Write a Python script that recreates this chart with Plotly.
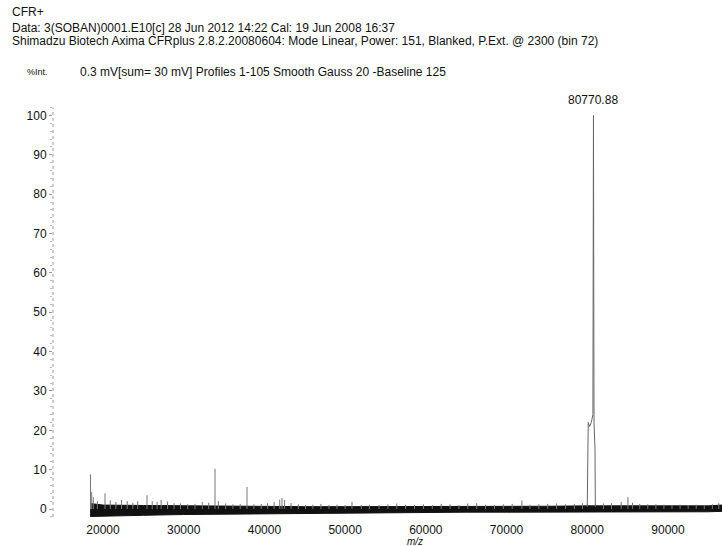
import plotly.graph_objects as go

# Header text of the spectrum printout
header_lines = [
    "CFR+",
    "Data: 3(SOBAN)0001.E10[c] 28 Jun 2012 14:22 Cal: 19 Jun 2008 16:37",
    "Shimadzu Biotech Axima CFRplus 2.8.2.20080604: Mode Linear, Power: 151, Blanked, P.Ext. @ 2300 (bin 72)",
]
acq_info = "0.3 mV[sum= 30 mV] Profiles 1-105 Smooth Gauss 20 -Baseline 125"
y_title = "%Int."
x_title = "m/z"

# Axis ticks
x_ticks = [20000, 30000, 40000, 50000, 60000, 70000, 80000, 90000]
y_ticks = [0, 10, 20, 30, 40, 50, 60, 70, 80, 90, 100]

# Baseline noise band (upper / lower envelope, %Int.)
band_x = [18400, 20000, 25000, 30000, 35000, 40000, 45000, 50000, 55000,
          60000, 65000, 70000, 75000, 80000, 85000, 90000, 95000, 96700]
band_hi = [1.4, 1.0, 0.9, 0.8, 0.8, 0.7, 0.6, 0.6, 0.6,
           0.6, 0.6, 0.6, 0.7, 0.8, 0.8, 0.7, 0.8, 1.0]
band_lo = [-1.9, -1.8, -1.6, -1.4, -1.3, -1.2, -1.1, -1.0, -0.9,
           -0.9, -0.8, -0.8, -0.8, -0.8, -0.8, -0.7, -0.7, -0.6]

# Individual spikes above the baseline (m/z, %Int.)
spike_mz = [18450, 18600, 18800, 19300, 20250, 20900, 21600, 22300, 23000,
            23700, 24300, 25450, 26100, 26700, 27200, 28000, 28800, 29600,
            30500, 31400, 32300, 33100, 33880, 34300, 35200, 36100, 37000,
            37840, 38700, 39600, 40400, 41200, 41900, 42180, 42500, 43300,
            44200, 45100, 46000, 47000, 48000, 49000, 50000, 50850, 52000,
            53000, 54200, 55300, 56400, 57500, 58600, 59700, 60800, 61900,
            63000, 64100, 65200, 66300, 67400, 68500, 69600, 70700, 71900,
            72900, 74000, 75100, 76200, 77300, 78400, 79400, 82000, 83000,
            84200, 85040, 85600, 86500, 87500, 88500, 89500, 90500, 91500,
            92500, 93500, 94500, 95500, 96300]
spike_int = [8.8, 4.3, 3.0, 2.0, 4.0, 2.2, 1.8, 2.3, 2.0,
             1.6, 2.0, 3.5, 2.0, 1.8, 2.3, 1.9, 1.5, 1.4,
             1.2, 1.3, 1.8, 1.6, 10.2, 2.0, 1.4, 1.2, 1.3,
             5.6, 1.2, 1.3, 1.5, 1.8, 2.4, 2.8, 2.3, 1.5,
             1.2, 1.0, 1.1, 1.3, 1.0, 1.1, 1.0, 1.8, 1.0,
             1.1, 1.0, 1.2, 1.4, 1.1, 1.0, 1.2, 1.0, 1.3,
             1.2, 1.0, 1.4, 1.5, 1.1, 1.0, 1.2, 1.3, 2.2,
             1.1, 1.2, 1.3, 1.4, 1.2, 1.3, 1.5, 1.4, 1.5,
             1.8, 3.0, 1.6, 1.3, 1.2, 1.2, 1.1, 1.0, 1.1,
             1.0, 1.1, 1.0, 1.2, 1.5]

# Profile of the main peak
peak_mz = [80000, 80050, 80120, 80300, 80500, 80700, 80740, 80770, 80800,
           80840, 80900, 80960, 81000]
peak_int = [0.5, 16.0, 22.0, 21.0, 22.0, 24.0, 70.0, 100.0, 60.0,
            22.0, 18.0, 15.0, 0.5]
peak_label = "80770.88"
peak_label_mz = 80770

# Page geometry (pixels)
W, H = 722, 546
L, R, T, B = 53, 0, 104, 29
x_range = [13805, 96694]
y_range = [-2.03, 102.92]
FONT = "Liberation Sans"


def px_x(p):
    return (p - L) / (W - L - R)


def px_y(p):
    return (H - B - p) / (H - T - B)


fig = go.Figure()

# baseline band
fig.add_trace(go.Scatter(x=band_x, y=band_lo, mode="lines",
                         line=dict(color="#111", width=1),
                         hoverinfo="skip", showlegend=False))
fig.add_trace(go.Scatter(x=band_x, y=band_hi, mode="lines", fill="tonexty",
                         fillcolor="#111", line=dict(color="#111", width=1),
                         hoverinfo="skip", showlegend=False))

# spikes as sticks
sx, sy = [], []
for m, h in zip(spike_mz, spike_int):
    sx += [m, m, None]
    sy += [0, h, None]
fig.add_trace(go.Scatter(x=sx, y=sy, mode="lines",
                         line=dict(color="#777", width=1),
                         hoverinfo="skip", showlegend=False))

# main peak
fig.add_trace(go.Scatter(x=peak_mz, y=peak_int, mode="lines",
                         line=dict(color="#666", width=1),
                         showlegend=False))

annotations = []
header_y = [12, 28, 41]
for txt, yy in zip(header_lines, header_y):
    annotations.append(dict(text=txt, xref="paper", yref="paper",
                            x=px_x(10), y=px_y(yy), xanchor="left",
                            yanchor="middle", showarrow=False,
                            font=dict(family=FONT, size=12, color="#111")))
annotations.append(dict(text=y_title, xref="paper", yref="paper",
                        x=px_x(25), y=px_y(72), xanchor="left",
                        yanchor="middle", showarrow=False,
                        font=dict(family=FONT, size=9, color="#111")))
annotations.append(dict(text=acq_info, xref="paper", yref="paper",
                        x=px_x(78), y=px_y(72), xanchor="left",
                        yanchor="middle", showarrow=False,
                        font=dict(family=FONT, size=12, color="#111")))
annotations.append(dict(text="<i>" + x_title + "</i>", xref="paper",
                        yref="paper", x=px_x(415), y=px_y(541),
                        xanchor="center", yanchor="middle", showarrow=False,
                        font=dict(family=FONT, size=10, color="#111")))
annotations.append(dict(text=peak_label, xref="x", yref="paper",
                        x=peak_label_mz, y=px_y(100), xanchor="center",
                        yanchor="middle", showarrow=False,
                        font=dict(family=FONT, size=12, color="#111")))

# dotted y axis line
shapes = [dict(type="line", xref="paper", yref="y", x0=0, x1=0,
               y0=-2, y1=102, line=dict(color="#999", width=1, dash="dot"))]

fig.update_layout(
    width=W, height=H,
    margin=dict(l=L, r=R, t=T, b=B),
    paper_bgcolor="white", plot_bgcolor="white",
    annotations=annotations, shapes=shapes,
    xaxis=dict(range=x_range, tickvals=x_ticks,
               ticktext=[str(v) for v in x_ticks],
               showgrid=False, zeroline=False, showline=False,
               ticks="outside", ticklen=2, tickcolor="rgba(0,0,0,0)",
               tickfont=dict(family=FONT, size=12, color="#111")),
    yaxis=dict(range=y_range, tickvals=y_ticks,
               showgrid=False, zeroline=False, showline=False,
               ticks="outside", ticklen=3, tickcolor="#999",
               minor=dict(dtick=2, ticks="outside", ticklen=2,
                          tickcolor="#bbb"),
               tickfont=dict(family=FONT, size=12, color="#111")),
)

fig.write_html("out.html")
